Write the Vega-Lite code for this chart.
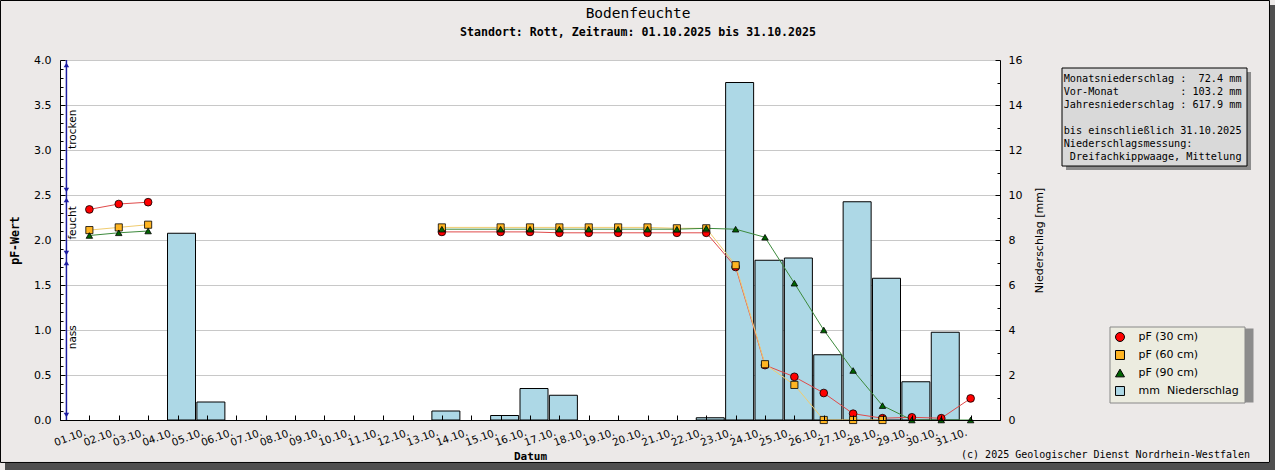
{
  "$schema": "https://vega.github.io/schema/vega-lite/v6.json",
  "width": 940,
  "height": 360,
  "autosize": {"type": "none"},
  "padding": {"left": 60, "top": 60, "right": 275, "bottom": 50},
  "background": "#ece9e8",
  "config": {
    "view": {"fill": "white", "stroke": null},
    "axis": {"labelFont": "DejaVu Sans", "labelFontSize": 11, "labelColor": "black", "domainColor": "black", "tickColor": "black", "titleColor": "black", "gridColor": "#c8c8c8", "gridWidth": 1}
  },
  "datasets": {
    "regen": [
      {"datum": "2025-10-04T00:00", "mm": 8.3},
      {"datum": "2025-10-05T00:00", "mm": 0.8},
      {"datum": "2025-10-13T00:00", "mm": 0.4},
      {"datum": "2025-10-15T00:00", "mm": 0.2},
      {"datum": "2025-10-16T00:00", "mm": 1.4},
      {"datum": "2025-10-17T00:00", "mm": 1.1},
      {"datum": "2025-10-22T00:00", "mm": 0.1},
      {"datum": "2025-10-23T00:00", "mm": 15.0},
      {"datum": "2025-10-24T00:00", "mm": 7.1},
      {"datum": "2025-10-25T00:00", "mm": 7.2},
      {"datum": "2025-10-26T00:00", "mm": 2.9},
      {"datum": "2025-10-27T00:00", "mm": 9.7},
      {"datum": "2025-10-28T00:00", "mm": 6.3},
      {"datum": "2025-10-29T00:00", "mm": 1.7},
      {"datum": "2025-10-30T00:00", "mm": 3.9}
    ],
    "pf": [
      {"datum": "2025-10-01T00:00", "tiefe": "pF (30 cm)", "abschnitt": 1, "pf": 2.34},
      {"datum": "2025-10-02T00:00", "tiefe": "pF (30 cm)", "abschnitt": 1, "pf": 2.40},
      {"datum": "2025-10-03T00:00", "tiefe": "pF (30 cm)", "abschnitt": 1, "pf": 2.42},
      {"datum": "2025-10-13T00:00", "tiefe": "pF (30 cm)", "abschnitt": 2, "pf": 2.09},
      {"datum": "2025-10-15T00:00", "tiefe": "pF (30 cm)", "abschnitt": 2, "pf": 2.09},
      {"datum": "2025-10-16T00:00", "tiefe": "pF (30 cm)", "abschnitt": 2, "pf": 2.09},
      {"datum": "2025-10-17T00:00", "tiefe": "pF (30 cm)", "abschnitt": 2, "pf": 2.08},
      {"datum": "2025-10-18T00:00", "tiefe": "pF (30 cm)", "abschnitt": 2, "pf": 2.08},
      {"datum": "2025-10-19T00:00", "tiefe": "pF (30 cm)", "abschnitt": 2, "pf": 2.08},
      {"datum": "2025-10-20T00:00", "tiefe": "pF (30 cm)", "abschnitt": 2, "pf": 2.08},
      {"datum": "2025-10-21T00:00", "tiefe": "pF (30 cm)", "abschnitt": 2, "pf": 2.08},
      {"datum": "2025-10-22T00:00", "tiefe": "pF (30 cm)", "abschnitt": 2, "pf": 2.08},
      {"datum": "2025-10-23T00:00", "tiefe": "pF (30 cm)", "abschnitt": 2, "pf": 1.70},
      {"datum": "2025-10-24T00:00", "tiefe": "pF (30 cm)", "abschnitt": 2, "pf": 0.61},
      {"datum": "2025-10-25T00:00", "tiefe": "pF (30 cm)", "abschnitt": 2, "pf": 0.48},
      {"datum": "2025-10-26T00:00", "tiefe": "pF (30 cm)", "abschnitt": 2, "pf": 0.30},
      {"datum": "2025-10-27T00:00", "tiefe": "pF (30 cm)", "abschnitt": 2, "pf": 0.07},
      {"datum": "2025-10-28T00:00", "tiefe": "pF (30 cm)", "abschnitt": 2, "pf": 0.02},
      {"datum": "2025-10-29T00:00", "tiefe": "pF (30 cm)", "abschnitt": 2, "pf": 0.03},
      {"datum": "2025-10-30T00:00", "tiefe": "pF (30 cm)", "abschnitt": 2, "pf": 0.02},
      {"datum": "2025-10-31T00:00", "tiefe": "pF (30 cm)", "abschnitt": 2, "pf": 0.24},
      {"datum": "2025-10-01T00:00", "tiefe": "pF (60 cm)", "abschnitt": 1, "pf": 2.11},
      {"datum": "2025-10-02T00:00", "tiefe": "pF (60 cm)", "abschnitt": 1, "pf": 2.14},
      {"datum": "2025-10-03T00:00", "tiefe": "pF (60 cm)", "abschnitt": 1, "pf": 2.17},
      {"datum": "2025-10-13T00:00", "tiefe": "pF (60 cm)", "abschnitt": 2, "pf": 2.14},
      {"datum": "2025-10-15T00:00", "tiefe": "pF (60 cm)", "abschnitt": 2, "pf": 2.14},
      {"datum": "2025-10-16T00:00", "tiefe": "pF (60 cm)", "abschnitt": 2, "pf": 2.14},
      {"datum": "2025-10-17T00:00", "tiefe": "pF (60 cm)", "abschnitt": 2, "pf": 2.14},
      {"datum": "2025-10-18T00:00", "tiefe": "pF (60 cm)", "abschnitt": 2, "pf": 2.14},
      {"datum": "2025-10-19T00:00", "tiefe": "pF (60 cm)", "abschnitt": 2, "pf": 2.14},
      {"datum": "2025-10-20T00:00", "tiefe": "pF (60 cm)", "abschnitt": 2, "pf": 2.14},
      {"datum": "2025-10-21T00:00", "tiefe": "pF (60 cm)", "abschnitt": 2, "pf": 2.13},
      {"datum": "2025-10-22T00:00", "tiefe": "pF (60 cm)", "abschnitt": 2, "pf": 2.13},
      {"datum": "2025-10-23T00:00", "tiefe": "pF (60 cm)", "abschnitt": 2, "pf": 1.72},
      {"datum": "2025-10-24T00:00", "tiefe": "pF (60 cm)", "abschnitt": 2, "pf": 0.62},
      {"datum": "2025-10-25T00:00", "tiefe": "pF (60 cm)", "abschnitt": 2, "pf": 0.39},
      {"datum": "2025-10-26T00:00", "tiefe": "pF (60 cm)", "abschnitt": 2, "pf": 0.0},
      {"datum": "2025-10-27T00:00", "tiefe": "pF (60 cm)", "abschnitt": 2, "pf": 0.0},
      {"datum": "2025-10-28T00:00", "tiefe": "pF (60 cm)", "abschnitt": 2, "pf": 0.0},
      {"datum": "2025-10-01T00:00", "tiefe": "pF (90 cm)", "abschnitt": 1, "pf": 2.05},
      {"datum": "2025-10-02T00:00", "tiefe": "pF (90 cm)", "abschnitt": 1, "pf": 2.08},
      {"datum": "2025-10-03T00:00", "tiefe": "pF (90 cm)", "abschnitt": 1, "pf": 2.10},
      {"datum": "2025-10-13T00:00", "tiefe": "pF (90 cm)", "abschnitt": 2, "pf": 2.12},
      {"datum": "2025-10-15T00:00", "tiefe": "pF (90 cm)", "abschnitt": 2, "pf": 2.12},
      {"datum": "2025-10-16T00:00", "tiefe": "pF (90 cm)", "abschnitt": 2, "pf": 2.12},
      {"datum": "2025-10-17T00:00", "tiefe": "pF (90 cm)", "abschnitt": 2, "pf": 2.12},
      {"datum": "2025-10-18T00:00", "tiefe": "pF (90 cm)", "abschnitt": 2, "pf": 2.12},
      {"datum": "2025-10-19T00:00", "tiefe": "pF (90 cm)", "abschnitt": 2, "pf": 2.12},
      {"datum": "2025-10-20T00:00", "tiefe": "pF (90 cm)", "abschnitt": 2, "pf": 2.12},
      {"datum": "2025-10-21T00:00", "tiefe": "pF (90 cm)", "abschnitt": 2, "pf": 2.12},
      {"datum": "2025-10-22T00:00", "tiefe": "pF (90 cm)", "abschnitt": 2, "pf": 2.13},
      {"datum": "2025-10-23T00:00", "tiefe": "pF (90 cm)", "abschnitt": 2, "pf": 2.12},
      {"datum": "2025-10-24T00:00", "tiefe": "pF (90 cm)", "abschnitt": 2, "pf": 2.03},
      {"datum": "2025-10-25T00:00", "tiefe": "pF (90 cm)", "abschnitt": 2, "pf": 1.52},
      {"datum": "2025-10-26T00:00", "tiefe": "pF (90 cm)", "abschnitt": 2, "pf": 1.00},
      {"datum": "2025-10-27T00:00", "tiefe": "pF (90 cm)", "abschnitt": 2, "pf": 0.55},
      {"datum": "2025-10-28T00:00", "tiefe": "pF (90 cm)", "abschnitt": 2, "pf": 0.16},
      {"datum": "2025-10-29T00:00", "tiefe": "pF (90 cm)", "abschnitt": 2, "pf": 0.0},
      {"datum": "2025-10-30T00:00", "tiefe": "pF (90 cm)", "abschnitt": 2, "pf": 0.0},
      {"datum": "2025-10-31T00:00", "tiefe": "pF (90 cm)", "abschnitt": 2, "pf": 0.0}
    ],
    "zonen": [
      {"zone": "trocken", "von": 2.5, "bis": 4.0, "mitte": 3.23},
      {"zone": "feucht", "von": 1.8, "bis": 2.5, "mitte": 2.19},
      {"zone": "nass", "von": 0.0, "bis": 1.8, "mitte": 0.92}
    ]
  },
  "layer": [
    {
      "data": {"name": "regen"},
      "mark": {"type": "bar", "width": 28, "xOffset": 4, "stroke": "black", "strokeWidth": 1},
      "encoding": {
        "x": {"field": "datum", "type": "temporal", "scale": {"padding": 0}},
        "y": {
          "field": "mm", "type": "quantitative",
          "scale": {"domain": [0, 16], "nice": false},
          "axis": {
            "orient": "right", "zindex": 0,
            "title": "Niederschlag [mm]", "titleFont": "DejaVu Sans", "titleFontWeight": "normal", "titleFontSize": 11,
            "titleAngle": 270, "titleBaseline": "top", "titlePadding": 12,
            "tickCount": 16,
            "labelExpr": "abs(datum.value/2 - round(datum.value/2)) < 0.001 ? format(datum.value, 'd') : ''",
            "tickSize": {"condition": {"test": "abs(datum.value/2 - round(datum.value/2)) < 0.001", "value": -5}, "value": -3},
            "labelPadding": 13,
            "grid": true,
            "gridOpacity": {"condition": {"test": "abs(datum.value/2 - round(datum.value/2)) < 0.001", "value": 1}, "value": 0}
          }
        },
        "fill": {"datum": "mm\u00a0\u00a0Niederschlag", "type": "nominal"}
      }
    },
    {
      "layer": [
        {
          "data": {"values": [{}]},
          "mark": {"type": "rect", "fill": "#4f4f4f"},
          "encoding": {
            "x": {"datum": {"year": 2025, "month": 11, "date": 10, "hours": 4, "minutes": 35}, "type": "temporal"},
            "x2": {"datum": {"year": 2025, "month": 11, "date": 11}},
            "y": {"datum": 4.611, "type": "quantitative"},
            "y2": {"datum": -0.7}
          }
        },
        {
          "data": {"values": [{}]},
          "mark": {"type": "rect", "fill": "#4f4f4f"},
          "encoding": {
            "x": {"datum": {"year": 2025, "month": 9, "date": 28, "hours": 3, "minutes": 4}, "type": "temporal"},
            "x2": {"datum": {"year": 2025, "month": 11, "date": 11}},
            "y": {"datum": -0.478, "type": "quantitative"},
            "y2": {"datum": -0.7}
          }
        },
        {
          "data": {"values": [{}]},
          "mark": {"type": "rect", "fill": null, "fillOpacity": 0, "stroke": "black", "strokeWidth": 1},
          "encoding": {
            "x": {"datum": {"year": 2025, "month": 9, "date": 27, "hours": 23, "minutes": 23}, "type": "temporal"},
            "x2": {"datum": {"year": 2025, "month": 11, "date": 10, "hours": 4, "minutes": 11}},
            "y": {"datum": 4.661, "type": "quantitative"},
            "y2": {"datum": -0.472}
          }
        },
        {
          "data": {"values": [{}]},
          "mark": {"type": "text", "font": "DejaVu Sans Mono", "fontSize": 14.5, "align": "center", "baseline": "middle", "color": "black"},
          "encoding": {
            "x": {"datum": {"year": 2025, "month": 10, "date": 19, "hours": 16, "minutes": 15}, "type": "temporal"},
            "y": {"datum": 4.511, "type": "quantitative"},
            "text": {"value": "Bodenfeuchte"}
          }
        },
        {
          "data": {"values": [{}]},
          "mark": {"type": "text", "font": "DejaVu Sans Mono", "fontSize": 11.6, "fontWeight": "bold", "align": "center", "baseline": "middle", "color": "black"},
          "encoding": {
            "x": {"datum": {"year": 2025, "month": 10, "date": 19, "hours": 16, "minutes": 15}, "type": "temporal"},
            "y": {"datum": 4.3, "type": "quantitative"},
            "text": {"value": "Standort: Rott, Zeitraum: 01.10.2025 bis 31.10.2025"}
          }
        },
        {
          "data": {"values": [{}]},
          "mark": {"type": "rect", "fill": "#8c8c8c"},
          "encoding": {
            "x": {"datum": {"year": 2025, "month": 11, "date": 3, "hours": 5, "minutes": 56}, "type": "temporal"},
            "x2": {"datum": {"year": 2025, "month": 11, "date": 9, "hours": 13, "minutes": 5}},
            "y": {"datum": 3.867, "type": "quantitative"},
            "y2": {"datum": 2.778}
          }
        },
        {
          "data": {"values": [{}]},
          "mark": {"type": "rect", "fill": "#d9d9d9", "stroke": "black", "strokeWidth": 1},
          "encoding": {
            "x": {"datum": {"year": 2025, "month": 11, "date": 3, "hours": 2, "minutes": 40}, "type": "temporal"},
            "x2": {"datum": {"year": 2025, "month": 11, "date": 9, "hours": 9, "minutes": 49}},
            "y": {"datum": 3.911, "type": "quantitative"},
            "y2": {"datum": 2.822}
          }
        },
        {
          "data": {"values": [{}]},
          "mark": {"type": "text", "font": "DejaVu Sans Mono", "fontSize": 10.2, "lineHeight": 13, "align": "left", "baseline": "top", "color": "black"},
          "encoding": {
            "x": {"datum": {"year": 2025, "month": 11, "date": 3, "hours": 4}, "type": "temporal"},
            "y": {"datum": 3.84, "type": "quantitative"},
            "text": {"value": [
              "Monatsniederschlag :\u00a0\u00a072.4 mm",
              "Vor-Monat\u00a0\u00a0\u00a0\u00a0\u00a0\u00a0\u00a0\u00a0\u00a0\u00a0: 103.2 mm",
              "Jahresniederschlag : 617.9 mm",
              "\u200b",
              "bis einschließlich 31.10.2025",
              "Niederschlagsmessung:",
              "\u200b\u00a0Dreifachkippwaage, Mittelung"
            ]}
          }
        },
        {
          "data": {"values": [{}]},
          "mark": {"type": "rect", "fill": "#8c8c8c"},
          "encoding": {
            "x": {"datum": {"year": 2025, "month": 11, "date": 4, "hours": 20, "minutes": 44}, "type": "temporal"},
            "x2": {"datum": {"year": 2025, "month": 11, "date": 9, "hours": 15, "minutes": 7}},
            "y": {"datum": 1.017, "type": "quantitative"},
            "y2": {"datum": 0.194}
          }
        },
        {
          "data": {"values": [{}]},
          "mark": {"type": "text", "font": "DejaVu Sans Mono", "fontSize": 10, "align": "right", "baseline": "middle", "color": "black"},
          "encoding": {
            "x": {"datum": {"year": 2025, "month": 11, "date": 9, "hours": 12, "minutes": 16}, "type": "temporal"},
            "y": {"datum": -0.389, "type": "quantitative"},
            "text": {"value": "(c) 2025 Geologischer Dienst Nordrhein-Westfalen"}
          }
        },
        {
          "data": {"name": "zonen"},
          "mark": {"type": "rule", "color": "#1c1ca0", "strokeWidth": 1.5},
          "encoding": {
            "x": {"datum": {"year": 2025, "month": 9, "date": 30, "hours": 5, "minutes": 15}, "type": "temporal"},
            "y": {"field": "von", "type": "quantitative"},
            "y2": {"field": "bis"}
          }
        },
        {
          "data": {"name": "zonen"},
          "mark": {"type": "point", "shape": "triangle-up", "filled": true, "color": "#1c1ca0", "size": 30, "opacity": 1, "yOffset": 5},
          "encoding": {
            "x": {"datum": {"year": 2025, "month": 9, "date": 30, "hours": 5, "minutes": 15}, "type": "temporal"},
            "y": {"field": "bis", "type": "quantitative"}
          }
        },
        {
          "data": {"name": "zonen"},
          "mark": {"type": "point", "shape": "triangle-down", "filled": true, "color": "#1c1ca0", "size": 30, "opacity": 1, "yOffset": -5},
          "encoding": {
            "x": {"datum": {"year": 2025, "month": 9, "date": 30, "hours": 5, "minutes": 15}, "type": "temporal"},
            "y": {"field": "von", "type": "quantitative"}
          }
        },
        {
          "data": {"name": "zonen"},
          "mark": {"type": "text", "angle": 270, "align": "center", "baseline": "middle", "font": "DejaVu Sans", "fontSize": 10.5, "color": "black", "xOffset": 7},
          "encoding": {
            "x": {"datum": {"year": 2025, "month": 9, "date": 30, "hours": 5, "minutes": 15}, "type": "temporal"},
            "y": {"field": "mitte", "type": "quantitative"},
            "text": {"field": "zone"}
          }
        },
        {
          "data": {"name": "pf"},
          "mark": {"type": "line", "strokeWidth": 1},
          "encoding": {
            "x": {
              "field": "datum", "type": "temporal",
              "scale": {"domain": [{"year": 2025, "month": 9, "date": 30}, {"year": 2025, "month": 11, "date": 1}], "nice": false, "padding": 0},
              "axis": {
                "zindex": 1, "grid": false,
                "title": "Datum", "titleFont": "DejaVu Sans Mono", "titleFontWeight": "bold", "titleFontSize": 11, "titlePadding": 3,
                "tickCount": {"interval": "day", "step": 1},
                "labelExpr": "month(datum.value) == 9 ? timeFormat(datum.value, '%d.%m.') : ''",
                "labelAngle": -20, "labelAlign": "right", "labelBaseline": "top",
                "labelFontSize": 10.3, "labelOverlap": false, "labelFlush": false, "labelBound": false,
                "tickSize": -5, "labelPadding": 12, "labelOffset": -6
              }
            },
            "y": {
              "field": "pf", "type": "quantitative",
              "scale": {"domain": [0, 4], "nice": false, "zero": false},
              "axis": {
                "orient": "left", "zindex": 1, "grid": false,
                "title": "pF-Wert", "titleFont": "DejaVu Sans Mono", "titleFontWeight": "bold", "titleFontSize": 11.5, "titlePadding": 13,
                "tickCount": 40,
                "labelExpr": "abs(datum.value*2 - round(datum.value*2)) < 0.001 ? format(datum.value, '.1f') : ''",
                "tickSize": {"condition": {"test": "abs(datum.value*2 - round(datum.value*2)) < 0.001", "value": -5}, "value": -3},
                "labelPadding": 14
              }
            },
            "stroke": {"field": "tiefe", "type": "nominal", "scale": {"domain": ["pF (30 cm)", "pF (60 cm)", "pF (90 cm)"], "range": ["#e04a4a", "#f0cc70", "#3c8a3c"]}, "legend": null},
            "detail": {"field": "abschnitt", "type": "nominal"}
          }
        },
        {
          "data": {"name": "pf"},
          "mark": {"type": "point", "filled": true, "stroke": "black", "strokeWidth": 0.8, "opacity": 1},
          "encoding": {
            "x": {"field": "datum", "type": "temporal"},
            "y": {"field": "pf", "type": "quantitative"},
            "fill": {
              "field": "tiefe", "type": "nominal",
              "scale": {"domain": ["pF (30 cm)", "pF (60 cm)", "pF (90 cm)", "mm\u00a0\u00a0Niederschlag"], "range": ["#ff0000", "#ffb522", "#006400", "#add8e6"]},
              "legend": {"orient": "none", "legendX": 1049.5, "legendY": 266.5, "title": null, "fillColor": "#ecece0", "strokeColor": "#888888", "padding": 5, "rowPadding": 5, "symbolSize": 80, "symbolStrokeColor": "black", "symbolStrokeWidth": 1, "labelFont": "DejaVu Sans", "labelFontSize": 11, "labelOffset": 13, "labelColor": "black"}
            },
            "shape": {
              "field": "tiefe", "type": "nominal",
              "scale": {"domain": ["pF (30 cm)", "pF (60 cm)", "pF (90 cm)", "mm\u00a0\u00a0Niederschlag"], "range": ["circle", "square", "triangle-up", "square"]},
              "legend": {"orient": "none", "legendX": 1049.5, "legendY": 266.5, "title": null, "fillColor": "#ecece0", "strokeColor": "#888888", "padding": 5, "rowPadding": 5, "symbolSize": 80, "symbolStrokeColor": "black", "symbolStrokeWidth": 1, "labelFont": "DejaVu Sans", "labelFontSize": 11, "labelOffset": 13, "labelColor": "black"}
            },
            "size": {"field": "tiefe", "type": "nominal", "scale": {"domain": ["pF (30 cm)", "pF (60 cm)", "pF (90 cm)"], "range": [60, 42, 55]}, "legend": null}
          }
        }
      ]
    }
  ],
  "resolve": {"scale": {"y": "independent"}}
}
